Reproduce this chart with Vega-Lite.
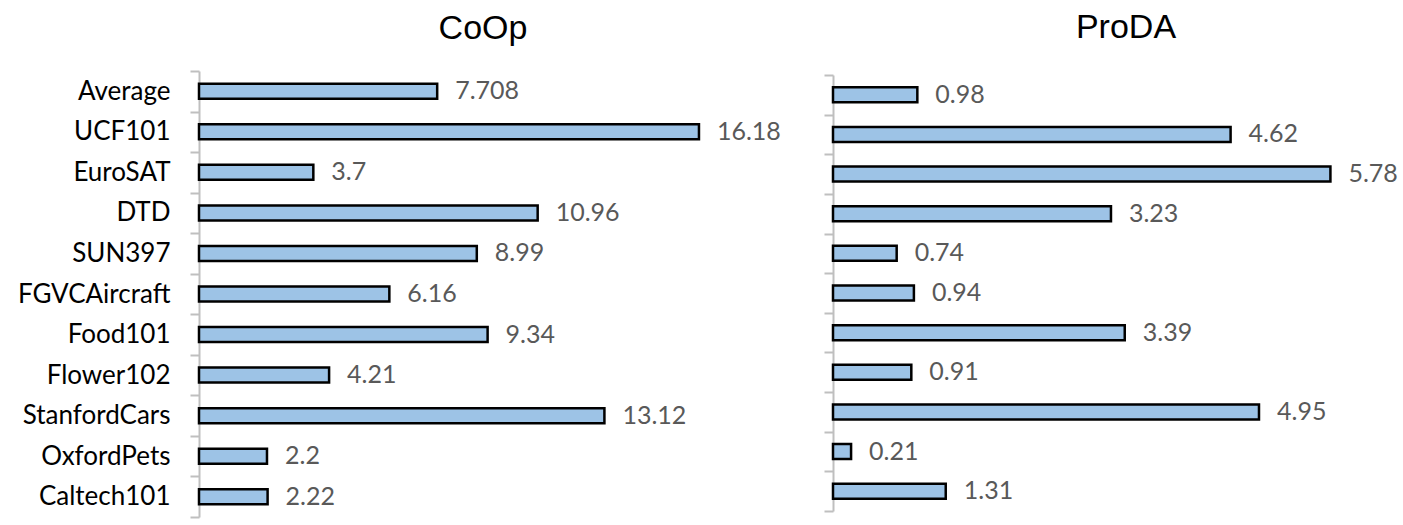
{
  "$schema": "https://vega.github.io/schema/vega-lite/v6.json",
  "padding": {"left": 5, "top": 11, "right": 5, "bottom": 5},
  "background": "white",
  "datasets": {
    "coop": [
      {"dataset": "Average", "value": 7.708},
      {"dataset": "UCF101", "value": 16.18},
      {"dataset": "EuroSAT", "value": 3.7},
      {"dataset": "DTD", "value": 10.96},
      {"dataset": "SUN397", "value": 8.99},
      {"dataset": "FGVCAircraft", "value": 6.16},
      {"dataset": "Food101", "value": 9.34},
      {"dataset": "Flower102", "value": 4.21},
      {"dataset": "StanfordCars", "value": 13.12},
      {"dataset": "OxfordPets", "value": 2.2},
      {"dataset": "Caltech101", "value": 2.22}
    ],
    "proda": [
      {"dataset": "Average", "value": 0.98},
      {"dataset": "UCF101", "value": 4.62},
      {"dataset": "EuroSAT", "value": 5.78},
      {"dataset": "DTD", "value": 3.23},
      {"dataset": "SUN397", "value": 0.74},
      {"dataset": "FGVCAircraft", "value": 0.94},
      {"dataset": "Food101", "value": 3.39},
      {"dataset": "Flower102", "value": 0.91},
      {"dataset": "StanfordCars", "value": 4.95},
      {"dataset": "OxfordPets", "value": 0.21},
      {"dataset": "Caltech101", "value": 1.31}
    ]
  },
  "config": {
    "view": {"stroke": null},
    "title": {"font": "Liberation Sans", "fontSize": 34, "fontWeight": "normal", "color": "#000000", "frame": "group", "anchor": "middle"},
    "concat": {"spacing": 42}
  },
  "hconcat": [
    {
      "title": {"text": "CoOp", "dx": -6, "offset": 12},
      "width": 580,
      "height": 446,
      "data": {"name": "coop"},
      "encoding": {
        "y": {
          "field": "dataset", "type": "nominal",
          "sort": ["Average", "UCF101", "EuroSAT", "DTD", "SUN397", "FGVCAircraft", "Food101", "Flower102", "StanfordCars", "OxfordPets", "Caltech101"],
          "scale": {"paddingInner": 0, "paddingOuter": 0},
          "axis": {"title": null, "tickBand": "extent", "domainColor": "#bfbfbf", "domainWidth": 2, "tickColor": "#bfbfbf", "tickWidth": 2, "tickSize": 9, "labelPadding": 20, "labelFont": "Lato", "labelFontSize": 26, "labelColor": "#000000", "minExtent": 194, "maxExtent": 194}
        },
        "x": {
          "field": "value", "type": "quantitative",
          "scale": {"domain": [0, 18.77], "nice": false},
          "axis": null
        }
      },
      "layer": [
        {"mark": {"type": "bar", "fill": "#9dc3e6", "stroke": "#000000", "strokeWidth": 2.5, "size": 15}},
        {"mark": {"type": "text", "align": "left", "baseline": "middle", "dx": 18, "font": "Lato", "fontSize": 25, "color": "#595959"},
         "encoding": {"text": {"field": "value", "type": "quantitative"}}}
      ]
    },
    {
      "title": {"text": "ProDA", "dx": 43, "offset": 26},
      "width": 500,
      "height": 440,
      "data": {"name": "proda"},
      "encoding": {
        "y": {
          "field": "dataset", "type": "nominal",
          "sort": ["Average", "UCF101", "EuroSAT", "DTD", "SUN397", "FGVCAircraft", "Food101", "Flower102", "StanfordCars", "OxfordPets", "Caltech101"],
          "scale": {"paddingInner": 0, "paddingOuter": 0, "range": [4, 440]},
          "axis": {"title": null, "labels": false, "tickBand": "extent", "domainColor": "#bfbfbf", "domainWidth": 2, "tickColor": "#bfbfbf", "tickWidth": 2, "tickSize": 9, "minExtent": 10, "maxExtent": 10}
        },
        "x": {
          "field": "value", "type": "quantitative",
          "scale": {"domain": [0, 5.81], "nice": false},
          "axis": null
        }
      },
      "layer": [
        {"mark": {"type": "bar", "fill": "#9dc3e6", "stroke": "#000000", "strokeWidth": 2.5, "size": 15}},
        {"mark": {"type": "text", "align": "left", "baseline": "middle", "dx": 18, "font": "Lato", "fontSize": 25, "color": "#595959"},
         "encoding": {"text": {"field": "value", "type": "quantitative"}}}
      ]
    }
  ]
}
